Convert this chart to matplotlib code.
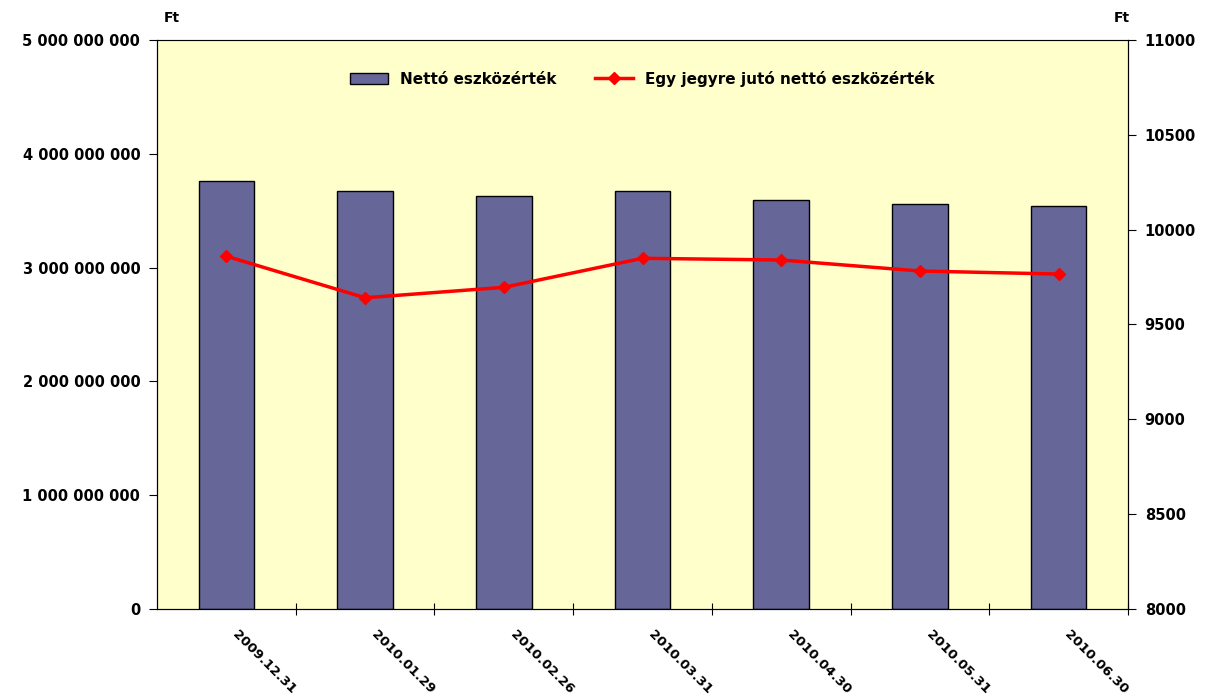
import numpy as np
import matplotlib.pyplot as plt
from matplotlib.ticker import FuncFormatter

# Data
dates = ['2009.12.31', '2010.01.29', '2010.02.26', '2010.03.31',
         '2010.04.30', '2010.05.31', '2010.06.30']
net_assets = [3.76e9, 3.67e9, 3.63e9, 3.67e9, 3.59e9, 3.56e9, 3.54e9]
per_unit = [9860, 9641, 9696, 9849, 9840, 9782, 9766]

bar_label = 'Nettó eszközérték'
line_label = 'Egy jegyre jutó nettó eszközérték'

plt.rcParams['font.family'] = ['DejaVu Sans']
plt.rcParams['font.weight'] = 'bold'

fig = plt.figure(figsize=(12.06, 6.97), dpi=100)
ax = fig.add_axes([157 / 1206, 1 - 609 / 697, (1128 - 157) / 1206, (609 - 40) / 697])
ax.set_facecolor('#FFFFCC')

x = np.arange(len(dates))
bars = ax.bar(x, net_assets, width=0.4, color='#666699', edgecolor='black',
              linewidth=1, label=bar_label, zorder=2)
ax.set_xlim(-0.5, len(dates) - 0.5)
ax.set_ylim(0, 5e9)
ax.set_yticks(np.arange(0, 5.01e9, 1e9))
ax.yaxis.set_major_formatter(FuncFormatter(lambda v, p: f'{int(v):,}'.replace(',', ' ')))
ax.tick_params(axis='y', direction='out', length=6, labelsize=10.5, pad=6)

# category boundaries as x ticks, labels placed at centres
ax.set_xticks(np.arange(-0.5, len(dates), 1.0)[1:])
ax.set_xticklabels([])
ax.tick_params(axis='x', direction='inout', length=8)
for xi, d in zip(x, dates):
    ax.text(xi + 0.06, -0.042, d, transform=ax.get_xaxis_transform(), rotation=-45,
            rotation_mode='anchor', ha='left', va='center', fontsize=9.5,
            fontweight='bold')

ax.spines['top'].set_color('#808080')
for s in ['left', 'right', 'bottom']:
    ax.spines[s].set_color('black')

ax2 = ax.twinx()
line, = ax2.plot(x, per_unit, color='#FF0000', lw=2.5, marker='D', markersize=6,
                 label=line_label, zorder=3)
ax2.set_ylim(8000, 11000)
ax2.set_yticks(np.arange(8000, 11001, 500))
ax2.tick_params(axis='y', direction='out', length=6, labelsize=10.5, pad=6)

fig.text(172 / 1206, 1 - 18 / 697, 'Ft', fontsize=10, fontweight='bold', ha='center', va='center')
fig.text(1122 / 1206, 1 - 18 / 697, 'Ft', fontsize=10, fontweight='bold', ha='center', va='center')

ax2.legend([bars, line], [bar_label, line_label], loc='upper center',
           bbox_to_anchor=(0.5, 0.97), ncol=2, frameon=False, fontsize=11,
           handlelength=2.5, columnspacing=2.5)

fig.savefig('out.png', dpi=100)
